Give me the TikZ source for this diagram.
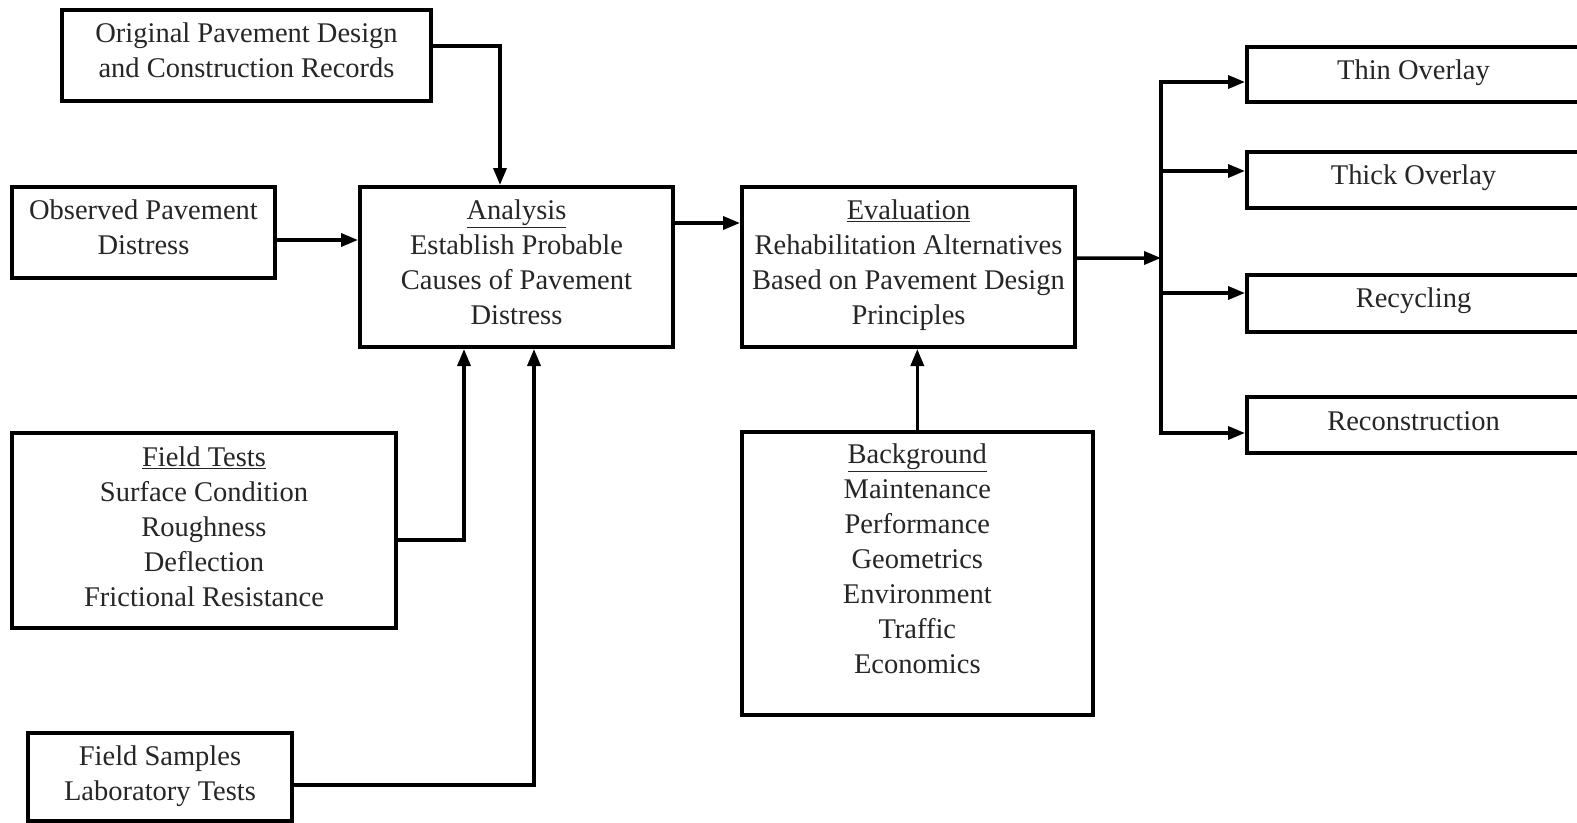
\documentclass[tikz,border=0pt]{standalone}
\usepackage{fontspec}
\setmainfont{Liberation Serif}
\usetikzlibrary{arrows.meta}
\newcommand{\dpt}[1]{\rule[-#1bp]{0pt}{0pt}}
\tikzset{
  box/.style={draw=black, line width=4bp, fill=white, inner sep=2bp, align=center,
    font=\fontsize{28.6pt}{35.1pt}\selectfont, text=black!85},
  conn/.style={draw=black, line width=3.5bp},
  arr/.style={conn, -{Triangle[length=17bp,width=13bp]}},
}
\begin{document}
\begin{tikzpicture}[x=1bp, y=-1bp]
\useasboundingbox[fill=white] (0,0) rectangle (1577,822);

% left column
\node[box, minimum width=369bp, minimum height=91bp] (orig) at (246.5,55.5)
  {Original Pavement Design\\and Construction Records\dpt{10}};
\node[box, minimum width=263bp, minimum height=91bp] (obs) at (143.5,232.5)
  {Observed Pavement\\Distress\dpt{10}};
\node[box, minimum width=383bp, minimum height=195bp] (ft) at (204,530.5)
  {\underline{Field Tests}\\Surface Condition\\Roughness\\Deflection\\Frictional Resistance\dpt{8}};
\node[box, minimum width=264bp, minimum height=88bp] (fs) at (160,777)
  {Field Samples\\Laboratory Tests\dpt{8}};

% centre
\node[box, minimum width=313bp, minimum height=160bp] (ana) at (516.5,267)
  {\underline{Analysis}\\Establish Probable\\Causes of Pavement\\Distress\dpt{10}};
\node[box, minimum width=333bp, minimum height=160bp] (eva) at (908.5,267)
  {\underline{Evaluation}\\Rehabilitation Alternatives\\Based on Pavement Design\\Principles\dpt{10}};
\node[box, minimum width=351bp, minimum height=283bp] (bg) at (917.3,573.5)
  {\underline{Background}\\Maintenance\\Performance\\Geometrics\\Environment\\Traffic\\Economics\dpt{30}};

% right column
\node[box, minimum width=333bp, minimum height=55bp] (thin) at (1413.5,74.5) {Thin Overlay\dpt{10}};
\node[box, minimum width=333bp, minimum height=56bp] (thick) at (1413.5,180) {Thick Overlay\dpt{10}};
\node[box, minimum width=333bp, minimum height=57bp] (rec) at (1413.5,303.5) {Recycling\dpt{12}};
\node[box, minimum width=333bp, minimum height=56bp] (recon) at (1413.5,425) {Reconstruction\dpt{8}};

% connectors into Analysis
\draw[arr] ([yshift=9.5bp]orig.east) -| ([xshift=-16.5bp]ana.north);
\draw[arr] ([yshift=-7.5bp]obs.east) -- ([yshift=-7.5bp]obs.east -| ana.west);
\draw[arr] ([yshift=-9.5bp]ft.east) -| ([xshift=-52.5bp]ana.south);
\draw[arr] ([yshift=-8bp]fs.east) -| ([xshift=17.5bp]ana.south);

% Analysis to Evaluation
\draw[arr] ([yshift=44bp]ana.east) -- ([yshift=44bp]ana.east -| eva.west);
% Background to Evaluation
\draw[arr] (bg.north) -- (bg.north |- eva.south);

% Evaluation to alternatives
\coordinate (bus) at (1161,258);
\coordinate (b1) at (1161,82);
\coordinate (b2) at (1161,171);
\coordinate (b3) at (1161,293);
\coordinate (b4) at (1161,433);
\draw[arr] ([yshift=9bp]eva.east) -- (bus);
\draw[conn] ([yshift=1.75bp]b1) -- ([yshift=-1.75bp]b4);
\draw[arr] (b1) -- (b1 -| thin.west);
\draw[arr] (b2) -- (b2 -| thick.west);
\draw[arr] (b3) -- (b3 -| rec.west);
\draw[arr] (b4) -- (b4 -| recon.west);
\end{tikzpicture}
\end{document}
